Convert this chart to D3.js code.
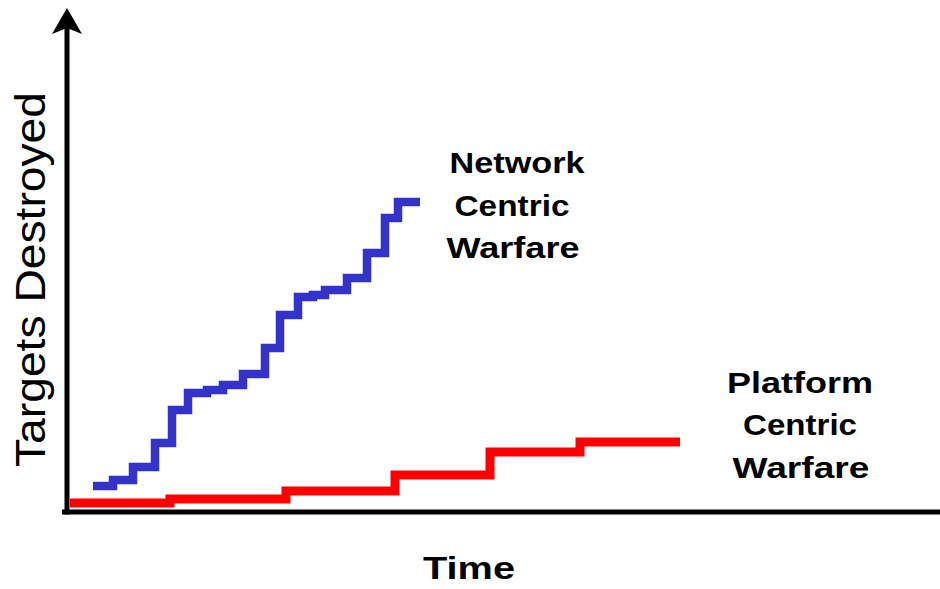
<!DOCTYPE html>
<html>
<head>
<meta charset="utf-8">
<script src="https://cdn.jsdelivr.net/npm/d3@7"></script>
<style>
  html, body { margin: 0; padding: 0; background: #fff; }
  svg { display: block; }
</style>
</head>
<body>
<svg id="chart" width="940" height="589"></svg>
<script>
// ---- Data (time units vs. targets destroyed) ----
const networkTime    = [2.6, 4.6, 6.6, 8.8, 10.5, 12.1, 14.0, 15.6, 17.6, 19.8, 21.3, 23.1, 24.6, 25.8, 28.0, 30.0, 31.8, 33.1, 35.3];
const networkTargets = [5.2, 6.4, 9.0, 13.8, 20.4, 23.8, 24.4, 25.4, 27.6, 32.8, 39.4, 43.0, 43.4, 44.4, 46.8, 51.8, 58.8, 62.0, 62.0];
const platformTime    = [0.3, 10.3, 21.9, 32.8, 42.3, 51.3, 61.3];
const platformTargets = [1.8, 2.6, 4.2, 7.4, 12.0, 14.0, 14.0];
const networkLabel  = ["Network", "Centric", "Warfare"];
const platformLabel = ["Platform", "Centric", "Warfare"];
const xTitle = "Time";
const yTitle = "Targets Destroyed";

const svg = d3.select("#chart");
const W = 940, H = 589;
const originX = 67, originY = 512;

const x = d3.scaleLinear().domain([0, 100]).range([originX, originX + 1000]);
const y = d3.scaleLinear().domain([0, 100]).range([originY, originY - 500]);

const line = d3.line()
  .x(d => x(d[0]))
  .y(d => y(d[1]))
  .curve(d3.curveStepAfter);

// Series
svg.append("path")
  .datum(d3.zip(platformTime, platformTargets))
  .attr("d", line)
  .attr("fill", "none")
  .attr("stroke", "#ff0000")
  .attr("stroke-width", 9)
  .attr("stroke-linejoin", "miter");

svg.append("path")
  .datum(d3.zip(networkTime, networkTargets))
  .attr("d", line)
  .attr("fill", "none")
  .attr("stroke", "#3333cc")
  .attr("stroke-width", 8.5)
  .attr("stroke-linejoin", "miter");

// Axes
svg.append("line")
  .attr("x1", originX - 5).attr("x2", W)
  .attr("y1", originY).attr("y2", originY)
  .attr("stroke", "#000").attr("stroke-width", 5);

svg.append("line")
  .attr("x1", originX).attr("x2", originX)
  .attr("y1", originY + 2.5).attr("y2", 26)
  .attr("stroke", "#000").attr("stroke-width", 5);

svg.append("path")
  .attr("d", `M${originX},8 L${originX + 15},34 L${originX},28 L${originX - 15},34 Z`)
  .attr("fill", "#000");

// Axis titles
const font = "'Liberation Sans', Arial, Helvetica, sans-serif";
svg.append("text")
  .attr("transform", "translate(45,279.5) rotate(-90)")
  .attr("text-anchor", "middle")
  .attr("font-family", font)
  .attr("font-size", 42)
  .attr("textLength", 375)
  .attr("lengthAdjust", "spacingAndGlyphs")
  .attr("fill", "#000")
  .text(yTitle);

svg.append("text")
  .attr("x", 469).attr("y", 579)
  .attr("text-anchor", "middle")
  .attr("font-family", font)
  .attr("font-size", 32)
  .attr("font-weight", "bold")
  .attr("textLength", 92)
  .attr("lengthAdjust", "spacingAndGlyphs")
  .attr("fill", "#000")
  .text(xTitle);

// Series labels
function label(lines, cx, baselines, widths) {
  lines.forEach((t, i) => {
    svg.append("text")
      .attr("x", cx[i]).attr("y", baselines[i])
      .attr("text-anchor", "middle")
      .attr("font-family", font)
      .attr("font-size", 30)
      .attr("font-weight", "bold")
      .attr("textLength", widths[i])
      .attr("lengthAdjust", "spacingAndGlyphs")
      .attr("fill", "#000")
      .text(t);
  });
}
label(networkLabel, [517, 512, 513], [173, 216, 258], [135, 115, 133]);
label(platformLabel, [800, 800, 801], [393, 435, 478], [146, 114, 137]);
</script>
</body>
</html>
